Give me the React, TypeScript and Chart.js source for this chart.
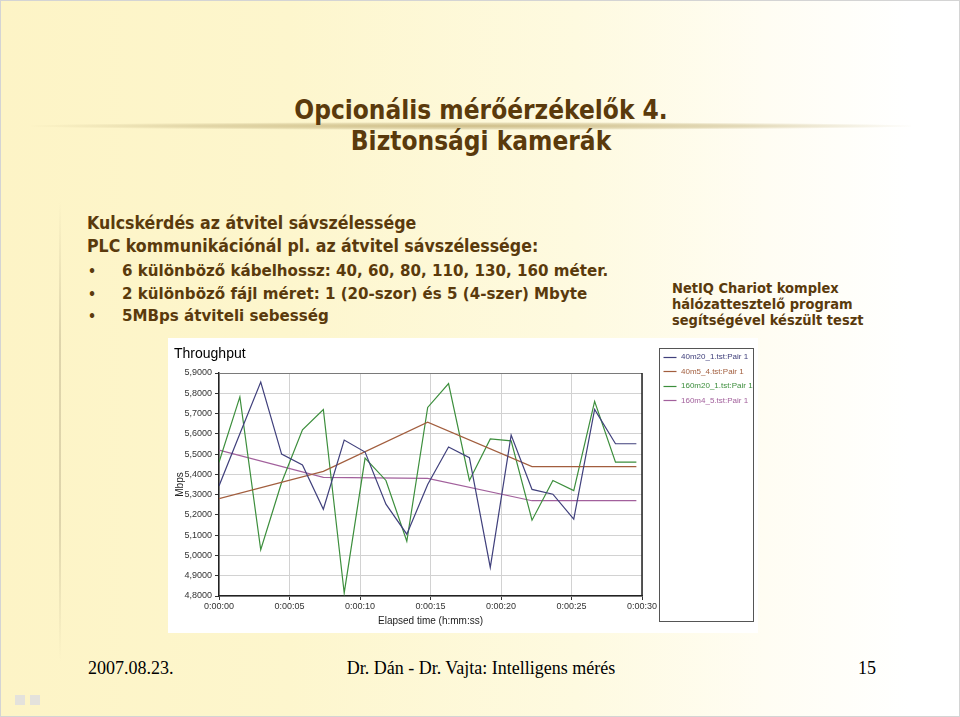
import React, { useEffect, useRef } from "react";
import { Chart, registerables } from "chart.js";

Chart.register(...registerables);

// ---- data ----
const seriesLabels = ["40m20_1.tst:Pair 1", "40m5_4.tst:Pair 1", "160m20_1.tst:Pair 1", "160m4_5.tst:Pair 1"];
const seriesColors = ["#40407c", "#a25e3e", "#3c8e3c", "#a2609c"];

const times20 = [0, 1.48, 2.96, 4.44, 5.92, 7.4, 8.88, 10.36, 11.84, 13.32, 14.8, 16.28, 17.76, 19.24, 20.72, 22.2, 23.68, 25.16, 26.64, 28.12, 29.6];
const times5 = [0, 7.4, 14.8, 22.2, 29.6];

const s40m20 = [5.343, 5.6, 5.855, 5.5, 5.446, 5.228, 5.569, 5.51, 5.253, 5.105, 5.35, 5.535, 5.482, 4.941, 5.594, 5.326, 5.302, 5.179, 5.72, 5.551, 5.551];
const s40m5 = [5.28, 5.415, 5.657, 5.438, 5.438];
const s160m20 = [5.46, 5.782, 5.028, 5.36, 5.62, 5.72, 4.815, 5.48, 5.37, 5.07, 5.73, 5.848, 5.37, 5.575, 5.565, 5.174, 5.37, 5.32, 5.76, 5.46, 5.46];
const s160m4 = [5.52, 5.385, 5.38, 5.27, 5.27];

const xMin = 0;
const xMax = 30;
const xStep = 5;
const yMin = 4.8;
const yMax = 5.9;
const yStep = 0.1;

const bodyLines = [
  "Kulcskérdés az átvitel sávszélessége",
  "PLC kommunikációnál pl. az átvitel sávszélessége:",
];
const bullets = [
  "6 különböző kábelhossz: 40, 60, 80, 110, 130, 160 méter.",
  "2 különböző fájl méret: 1 (20-szor) és 5 (4-szer) Mbyte",
  "5MBps átviteli sebesség",
];
const noteLines = ["NetIQ Chariot komplex", "hálózattesztelő program", "segítségével készült teszt"];

const fmtTime = (v: number) => {
  const s = Math.round(v);
  const h = Math.floor(s / 3600);
  const m = Math.floor((s % 3600) / 60);
  const ss = s % 60;
  return `${h}:${String(m).padStart(2, "0")}:${String(ss).padStart(2, "0")}`;
};

const toPts = (t: number[], v: number[]) => t.map((x, i) => ({ x, y: v[i] }));

const framePlugin = {
  id: "frameLegend",
  afterDraw(chart: any) {
    const { ctx, chartArea: a } = chart;
    ctx.save();
    ctx.lineWidth = 1;
    ctx.strokeStyle = "#7a7a7a";
    ctx.beginPath();
    ctx.moveTo(a.left, Math.round(a.top) + 0.5);
    ctx.lineTo(a.right, Math.round(a.top) + 0.5);
    ctx.stroke();
    ctx.strokeStyle = "#222";
    ctx.lineWidth = 1.5;
    ctx.beginPath();
    ctx.moveTo(Math.round(a.right), a.top);
    ctx.lineTo(Math.round(a.right), a.bottom);
    ctx.stroke();
    // legend box
    ctx.lineWidth = 1;
    ctx.strokeStyle = "#555";
    ctx.strokeRect(491.5, 10.5, 94, 273);
    ctx.font = "8px 'Liberation Sans', Arial, sans-serif";
    ctx.textBaseline = "middle";
    chart.data.datasets.forEach((ds: any, i: number) => {
      const y = 18.7 + i * 14.4;
      ctx.strokeStyle = ds.borderColor;
      ctx.lineWidth = 1.2;
      ctx.beginPath();
      ctx.moveTo(495.5, Math.round(y) + 0.5);
      ctx.lineTo(508.5, Math.round(y) + 0.5);
      ctx.stroke();
      ctx.fillStyle = ds.borderColor;
      ctx.fillText(ds.label, 513, y + 0.5);
    });
    ctx.restore();
  },
};

function ThroughputChart() {
  const ref = useRef<HTMLCanvasElement>(null);
  useEffect(() => {
    if (!ref.current) return;
    const seriesData = [toPts(times20, s40m20), toPts(times5, s40m5), toPts(times20, s160m20), toPts(times5, s160m4)];
    const chart = new Chart(ref.current, {
      type: "line",
      data: {
        datasets: seriesData.map((d, i) => ({
          label: seriesLabels[i],
          data: d,
          borderColor: seriesColors[i],
          backgroundColor: seriesColors[i],
          borderWidth: 1.2,
          pointRadius: 0,
          tension: 0,
          fill: false,
        })),
      },
      options: {
        animation: false,
        responsive: false,
        maintainAspectRatio: false,
        layout: { padding: { left: 6, right: 116, top: 0, bottom: 0 } },
        plugins: {
          legend: { display: false },
          tooltip: { enabled: false },
          title: {
            display: true,
            text: "Throughput",
            align: "start",
            color: "#000",
            font: { family: "'Liberation Sans', Arial, sans-serif", size: 14, weight: "normal" },
            padding: { top: 8, bottom: 10.2 },
          },
        },
        scales: {
          x: {
            type: "linear",
            min: xMin,
            max: xMax,
            afterFit: (s: any) => { s.height = 37; },
            ticks: {
              stepSize: xStep,
              callback: (v: any) => fmtTime(Number(v)),
              color: "#333",
              font: { family: "'Liberation Sans', Arial, sans-serif", size: 9 },
              padding: 1,
              maxRotation: 0,
            },
            grid: { color: "#d2d2d2", lineWidth: 1, tickLength: 4, tickColor: "#333" },
            border: { display: true, color: "#222", width: 1.5 },
            title: {
              display: true,
              text: "Elapsed time (h:mm:ss)",
              color: "#222",
              font: { family: "'Liberation Sans', Arial, sans-serif", size: 10 },
              padding: { top: 0, bottom: 6 },
            },
          },
          y: {
            type: "linear",
            min: yMin,
            max: yMax,
            afterFit: (s: any) => { s.width = 45; },
            ticks: {
              stepSize: yStep,
              callback: (v: any) => Number(v).toFixed(4).replace(".", ","),
              color: "#333",
              font: { family: "'Liberation Sans', Arial, sans-serif", size: 9 },
              padding: 3,
            },
            grid: { color: "#d2d2d2", lineWidth: 1, tickLength: 4, tickColor: "#333" },
            border: { display: true, color: "#222", width: 1.5 },
            title: {
              display: true,
              text: "Mbps",
              color: "#222",
              font: { family: "'Liberation Sans', Arial, sans-serif", size: 10 },
              padding: { top: 0, bottom: 0 },
            },
          },
        },
      },
      plugins: [framePlugin],
    } as any);
    return () => chart.destroy();
  }, []);
  return <canvas ref={ref} width={590} height={295} style={{ display: "block", width: 590, height: 295 }} />;
}

const brown = "#5a3a0c";
const condensed: React.CSSProperties = {
  fontFamily: "'DejaVu Sans Condensed', 'DejaVu Sans', sans-serif",
  fontStretch: "condensed",
  fontWeight: "bold",
  color: brown,
  whiteSpace: "nowrap",
  position: "absolute",
};
const wide: React.CSSProperties = {
  fontFamily: "'DejaVu Sans', Verdana, sans-serif",
  fontWeight: "bold",
  color: brown,
  whiteSpace: "nowrap",
  position: "absolute",
};

export default function App() {
  return (
    <div
      style={{
        position: "absolute",
        left: 0,
        top: 0,
        width: 960,
        height: 717,
        overflow: "hidden",
        background: "linear-gradient(to right, #fdf4c6 0%, #fdf6cd 30%, #fefae0 60%, #fffdf3 80%, #ffffff 95%)",
        boxSizing: "border-box",
        border: "1px solid #d4d4d4",
      }}
    >
      {/* swoosh */}
      <div
        style={{
          position: "absolute",
          left: 30,
          top: 121,
          width: 880,
          height: 8,
          background: "radial-gradient(ellipse at center, rgba(190,170,110,0.75) 0%, rgba(205,190,140,0.55) 45%, rgba(230,220,180,0) 72%)",
        }}
      />
      {/* vertical faint line */}
      <div
        style={{
          position: "absolute",
          left: 58,
          top: 200,
          width: 2,
          height: 460,
          background: "linear-gradient(to bottom, rgba(220,210,170,0), rgba(215,205,165,0.8) 30%, rgba(215,205,165,0.8) 70%, rgba(220,210,170,0))",
        }}
      />
      <div style={{ ...condensed, left: 0, width: 960, textAlign: "center", top: 94, fontSize: 26, lineHeight: "31px" }}>
        Opcionális mérőérzékelők 4.
        <br />
        Biztonsági kamerák
      </div>
      {bodyLines.map((t, i) => (
        <div key={t} style={{ ...condensed, left: 86, top: 212 + i * 23, fontSize: 17.6, lineHeight: "20px" }}>
          {t}
        </div>
      ))}
      {bullets.map((t, i) => (
        <React.Fragment key={t}>
          <div style={{ ...condensed, left: 87, top: 260 + i * 22.5, fontSize: 14, lineHeight: "20px" }}>•</div>
          <div style={{ ...wide, left: 121, top: 260 + i * 22.5, fontSize: 15.1, lineHeight: "20px" }}>{t}</div>
        </React.Fragment>
      ))}
      {noteLines.map((t, i) => (
        <div key={t} style={{ ...condensed, left: 671, top: 279 + i * 16, fontSize: 14.5, lineHeight: "16px" }}>
          {t}
        </div>
      ))}
      <div style={{ position: "absolute", left: 167, top: 337, width: 590, height: 295, background: "#fff" }}>
        <ThroughputChart />
      </div>
      {/* footer */}
      <div style={{ position: "absolute", left: 87, top: 657, fontFamily: "'Liberation Serif', 'Times New Roman', serif", fontSize: 18, color: "#000" }}>
        2007.08.23.
      </div>
      <div style={{ position: "absolute", left: 0, width: 960, textAlign: "center", top: 657, fontFamily: "'Liberation Serif', 'Times New Roman', serif", fontSize: 18, color: "#000" }}>
        Dr. Dán - Dr. Vajta: Intelligens mérés
      </div>
      <div style={{ position: "absolute", left: 857, top: 657, fontFamily: "'Liberation Serif', 'Times New Roman', serif", fontSize: 18, color: "#000" }}>
        15
      </div>
      <div style={{ position: "absolute", left: 14, top: 694, width: 10, height: 10, background: "#e4e2dc" }} />
      <div style={{ position: "absolute", left: 29, top: 694, width: 10, height: 10, background: "#e4e2dc" }} />
    </div>
  );
}
